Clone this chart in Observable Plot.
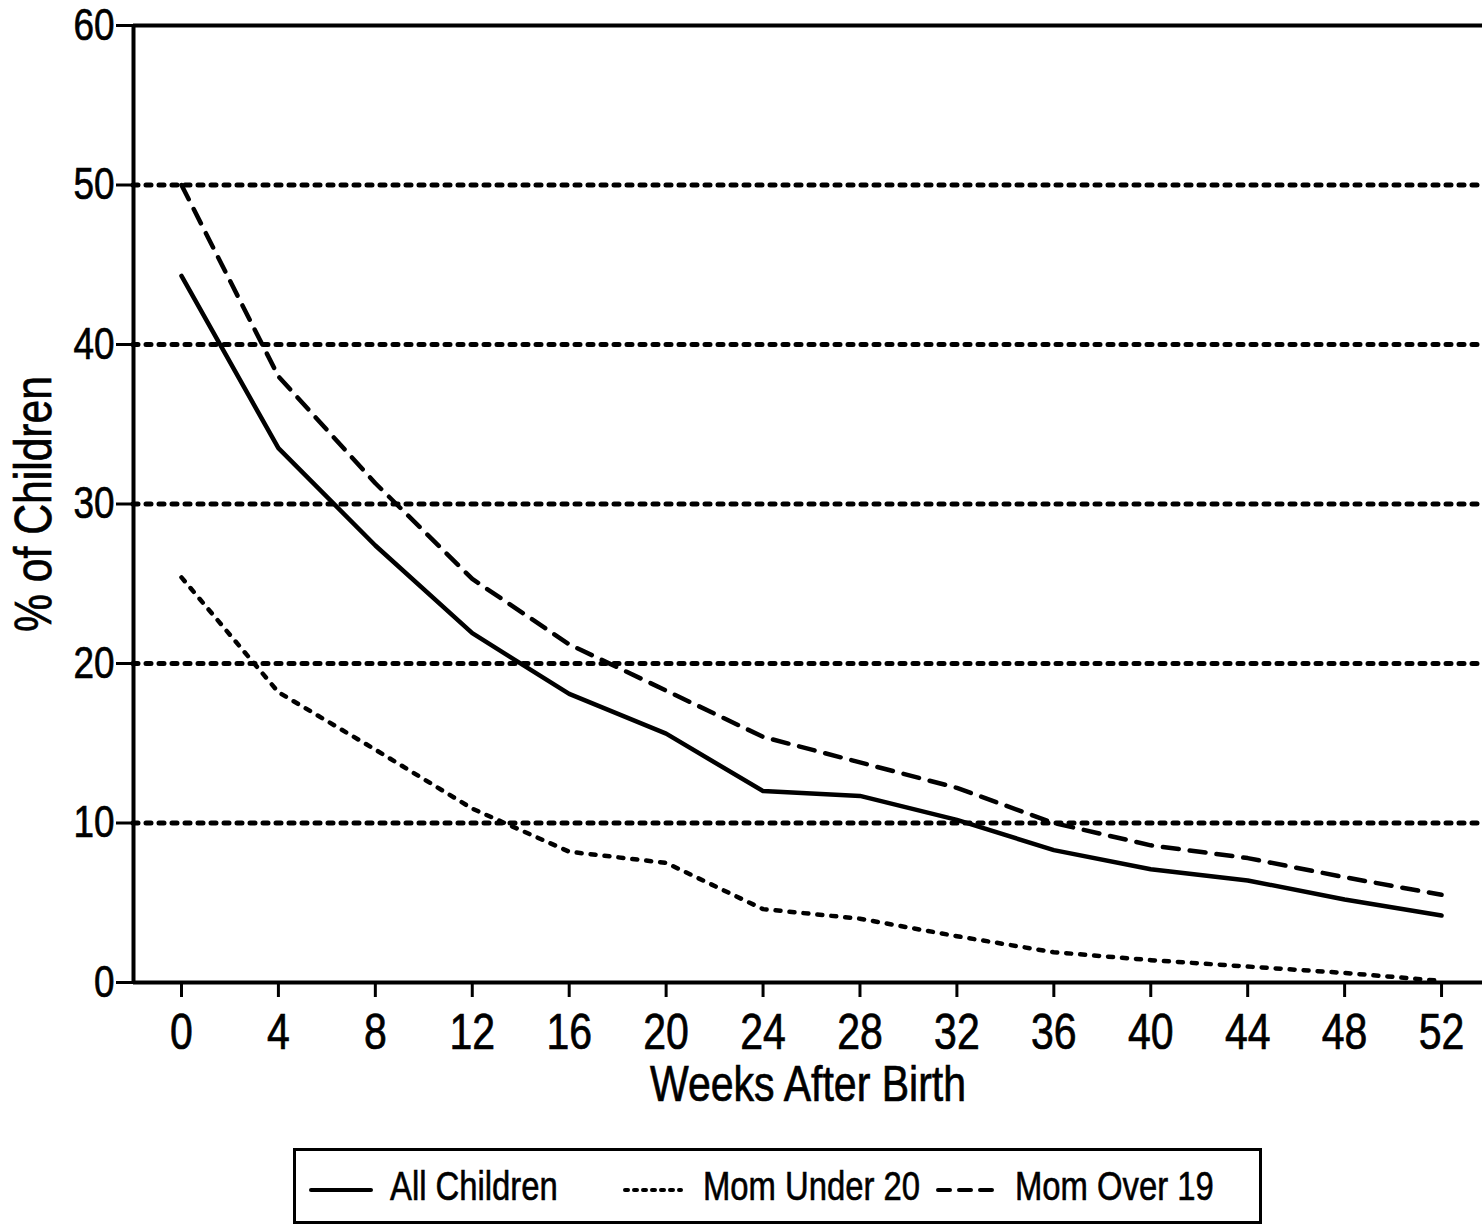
<!DOCTYPE html>
<html>
<head>
<meta charset="utf-8">
<script src="https://cdn.jsdelivr.net/npm/d3@7"></script>
<script src="https://cdn.jsdelivr.net/npm/@observablehq/plot@0.6"></script>
<style>
  html, body { margin: 0; padding: 0; background: #fff; }
  #wrap { position: relative; width: 1482px; height: 1224px; overflow: hidden; font-family: "Liberation Sans", Arial, sans-serif; }
  #chart svg text { stroke: #000; stroke-width: 0.7px; }
  #legend { position: absolute; left: 293px; top: 1148px; width: 963px; height: 70px; border: 3px solid #000; }
  .sw { position: absolute; top: 30px; }
  .lab { position: absolute; top: 0; height: 70px; line-height: 70px; font-size: 40px; color: #000; -webkit-text-stroke: 0.6px #000; white-space: nowrap; transform: scaleX(0.82); transform-origin: left center; }
</style>
</head>
<body>
<div id="wrap">
  <div id="chart"></div>
  <div id="legend"></div>
</div>
<script>
const weeks = [0, 4, 8, 12, 16, 20, 24, 28, 32, 36, 40, 44, 48, 52];
const allChildren = [44.3, 33.5, 27.4, 21.9, 18.1, 15.6, 12.0, 11.7, 10.2, 8.3, 7.1, 6.4, 5.2, 4.2];
const momUnder20 = [25.4, 18.2, 14.6, 10.9, 8.2, 7.5, 4.6, 4.0, 2.9, 1.9, 1.4, 1.0, 0.6, 0.1];
const momOver19 = [50.0, 38.0, 31.3, 25.3, 21.2, 18.3, 15.4, 13.8, 12.2, 10.0, 8.6, 7.8, 6.6, 5.5];
const seriesNames = ["All Children", "Mom Under 20", "Mom Over 19"];
const seriesDash = { "All Children": null, "Mom Under 20": "5,9", "Mom Over 19": "16,11" };
const yTicks = [0, 10, 20, 30, 40, 50, 60];
const gridValues = [10, 20, 30, 40, 50];
const xDomain = [-1.98, 53.69];
const xTitle = "Weeks After Birth";
const yTitle = "% of Children";
const FONT = "Liberation Sans, Arial, sans-serif";
const CONDENSE = 0.82;

const rows = [];
weeks.forEach((w, i) => {
  rows.push({ week: w, value: allChildren[i], series: seriesNames[0] });
  rows.push({ week: w, value: momUnder20[i], series: seriesNames[1] });
  rows.push({ week: w, value: momOver19[i], series: seriesNames[2] });
});

const lines = seriesNames.map(name =>
  Plot.line(rows.filter(d => d.series === name), {
    x: "week", y: "value", stroke: "#000", strokeWidth: 4.5,
    strokeDasharray: seriesDash[name], strokeLinejoin: "round", strokeLinecap: "round"
  })
);

const chart = Plot.plot({
  width: 1482,
  height: 1135,
  marginLeft: 133,
  marginRight: 0,
  marginTop: 25,
  marginBottom: 153,
  style: { fontFamily: FONT, background: "#fff", color: "#000" },
  x: { domain: xDomain },
  y: { domain: [0, 60] },
  marks: [
    Plot.ruleY(gridValues, { stroke: "#000", strokeWidth: 5, strokeDasharray: "5,8", strokeLinecap: "round" }),
    Plot.ruleY([0, 60], { stroke: "#000", strokeWidth: 4 }),
    Plot.ruleX([xDomain[0]], { stroke: "#000", strokeWidth: 4 }),
    ...lines,
    Plot.axisY({ ticks: yTicks, tickSize: 17, tickPadding: 2, fontSize: 45, strokeWidth: 3, label: null }),
    Plot.axisX({ ticks: weeks, tickSize: 15, tickPadding: 16, fontSize: 50, strokeWidth: 3, label: null }),
    Plot.text([xTitle], { frameAnchor: "bottom", lineAnchor: "middle", dy: 102, fontSize: 50 }),
    Plot.text([yTitle], { frameAnchor: "left", textAnchor: "middle", lineAnchor: "middle", dx: -99, rotate: -90, fontSize: 52 })
  ]
});
document.getElementById("chart").appendChild(chart);

// condense all chart text horizontally (original uses a narrow Helvetica)
chart.querySelectorAll("text").forEach(t => {
  const targets = t.querySelectorAll("tspan").length ? t.querySelectorAll("tspan") : [t];
  targets.forEach(el => {
    const len = el.getComputedTextLength();
    if (len > 0) {
      el.setAttribute("textLength", (len * CONDENSE).toFixed(2));
      el.setAttribute("lengthAdjust", "spacingAndGlyphs");
    }
  });
});

// legend
const legend = document.getElementById("legend");
const swatchPos = [12, 326, 639];
const labelPos = [94, 407, 719];
const swatchLen = [66, 62, 60];
seriesNames.forEach((name, i) => {
  const dash = seriesDash[name];
  const sw = document.createElement("div");
  sw.className = "sw";
  sw.style.left = swatchPos[i] + "px";
  sw.innerHTML = `<svg width="${swatchLen[i]}" height="10"><line x1="3" y1="5" x2="${swatchLen[i] - 3}" y2="5" stroke="#000" stroke-width="4" stroke-linecap="round" ${dash ? `stroke-dasharray="${name === "Mom Under 20" ? "3,6" : "12,9"}"` : ""}/></svg>`;
  legend.appendChild(sw);
  const lab = document.createElement("div");
  lab.className = "lab";
  lab.style.left = labelPos[i] + "px";
  lab.textContent = name;
  legend.appendChild(lab);
});
</script>
</body>
</html>
